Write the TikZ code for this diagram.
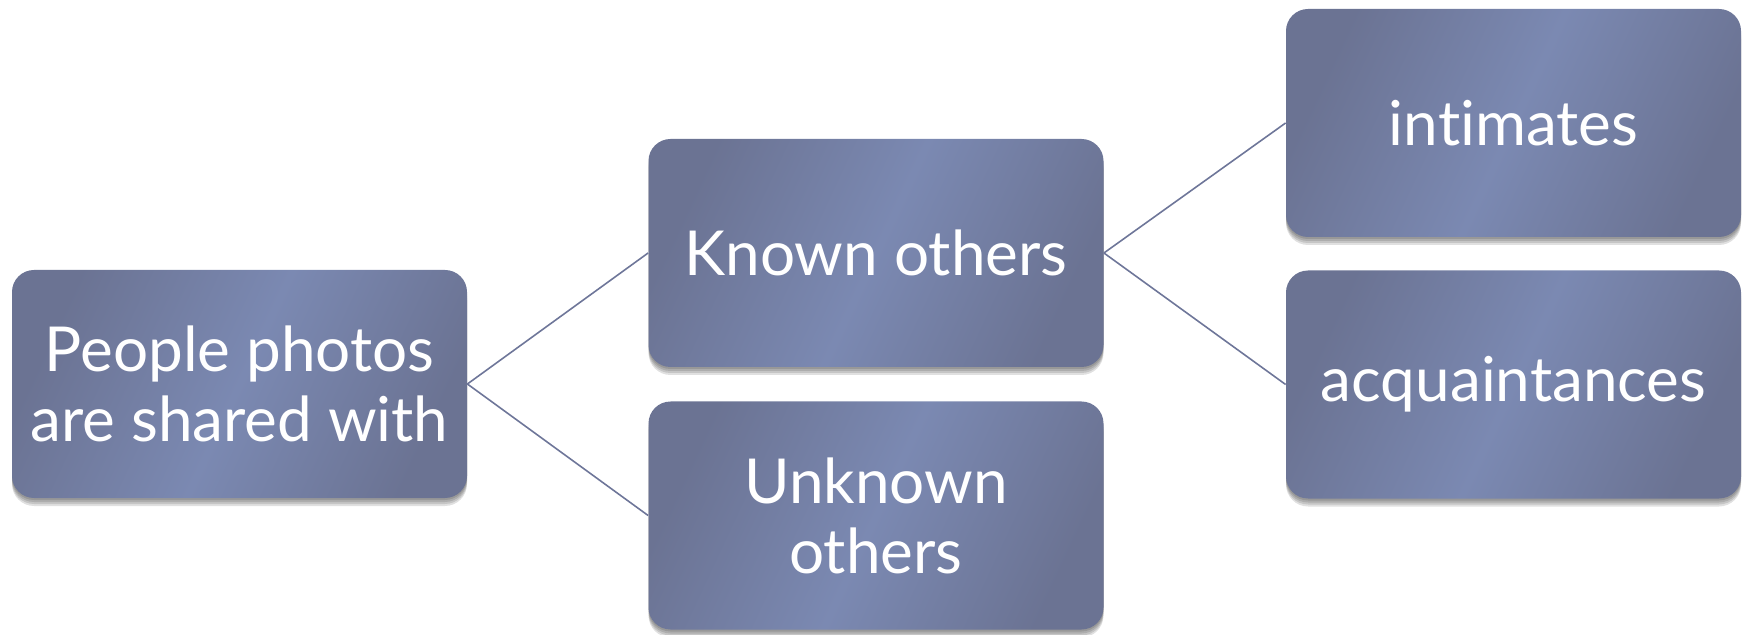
\documentclass[tikz,border=0pt]{standalone}
\usepackage{fontspec}
\setmainfont[Ligatures=NoCommon]{Lato}
\usetikzlibrary{shadows}
\definecolor{boxdark}{HTML}{6B7393}
\definecolor{boxlight}{HTML}{7B89B2}
\definecolor{linecol}{HTML}{6E7699}
\tikzset{
  softshadow/.style={general shadow={shadow xshift=0pt, shadow yshift=#1, opacity=0.12, fill=black}},
  box/.style={rounded corners=11pt, minimum width=227.5pt, minimum height=114pt,
    inner sep=0pt, align=center, text=white,
    left color=boxdark, right color=boxdark, middle color=boxlight, shading angle=65,
    font=\fontsize{31}{35}\selectfont,
    softshadow=-1pt, softshadow=-2pt, softshadow=-3pt, softshadow=-4pt},
  link/.style={draw=linecol, line width=0.8pt}
}
\begin{document}
\begin{tikzpicture}[x=0.5pt,y=-0.5pt]
\useasboundingbox (0,0) rectangle (1743,635);
\node[box] (root) at (239.5,384) {People photos\\are shared with};
\node[box] (known) at (876,253) {Known others};
\node[box] (unknown) at (876,515.5) {Unknown\\others};
\node[box] (intim) at (1513.5,123) {intimates};
\node[box] (acq) at (1513.5,384.5) {acquaintances};
\draw[link] (root.east) -- (known.west);
\draw[link] (root.east) -- (unknown.west);
\draw[link] (known.east) -- (intim.west);
\draw[link] (known.east) -- (acq.west);
\end{tikzpicture}
\end{document}
